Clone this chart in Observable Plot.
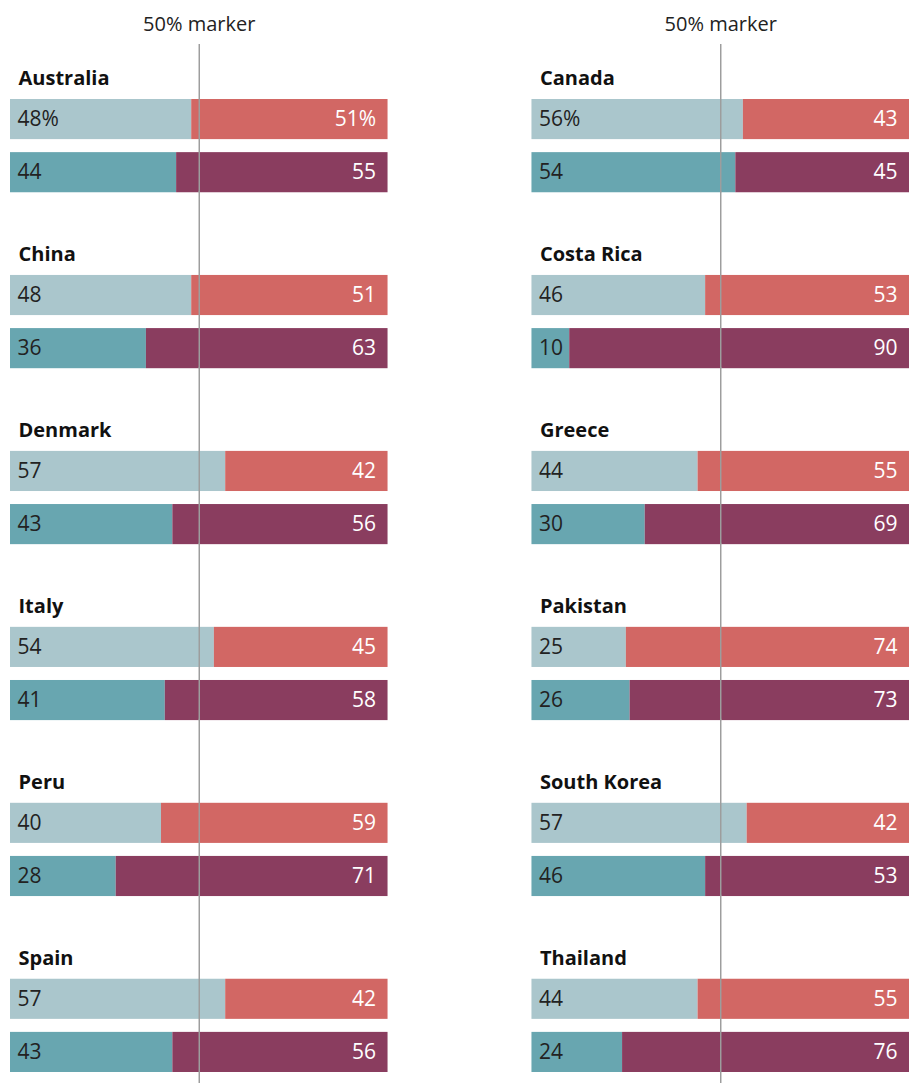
<!DOCTYPE html>
<html>
<head>
<meta charset="utf-8">
<script src="https://cdn.jsdelivr.net/npm/d3@7"></script>
<script src="https://cdn.jsdelivr.net/npm/@observablehq/plot@0.6"></script>
<style>
  html, body { margin: 0; padding: 0; background: #fff; }
  #chart svg { display: block; }
</style>
</head>
<body>
<div id="chart"></div>
<script>
// ---- data ----
const columns = ["left", "right"];
const countries = ["Australia", "China", "Denmark", "Italy", "Peru", "Spain",
                   "Canada", "Costa Rica", "Greece", "Pakistan", "South Korea", "Thailand"];
const countryColumn = ["left", "left", "left", "left", "left", "left",
                       "right", "right", "right", "right", "right", "right"];
const topFirst     = [48, 48, 57, 54, 40, 57, 56, 46, 44, 25, 57, 44];
const topSecond    = [51, 51, 42, 45, 59, 42, 43, 53, 55, 74, 42, 55];
const bottomFirst  = [44, 36, 43, 41, 28, 43, 54, 10, 30, 26, 46, 24];
const bottomSecond = [55, 63, 56, 58, 71, 56, 45, 90, 69, 73, 53, 76];
const topFirstLabel     = ["48%", "48", "57", "54", "40", "57", "56%", "46", "44", "25", "57", "44"];
const topSecondLabel    = ["51%", "51", "42", "45", "59", "42", "43", "53", "55", "74", "42", "55"];
const bottomFirstLabel  = ["44", "36", "43", "41", "28", "43", "54", "10", "30", "26", "46", "24"];
const bottomSecondLabel = ["55", "63", "56", "58", "71", "56", "45", "90", "69", "73", "53", "76"];
const markerValue = 50;
const markerLabel = "50% marker";
const total = 100;

// ---- build tables ----
const counters = {left: 0, right: 0};
const rows = countries.map((c, i) => {
  const col = countryColumn[i];
  const row = counters[col]++;
  return {country: c, col, row, i};
});
const rowDomain = d3.range(d3.max(rows, d => d.row) + 1);
const lastRow = rowDomain[rowDomain.length - 1];

const segments = rows.flatMap(r => [
  {col: r.col, row: r.row, bar: "top", x1: 0, x2: topFirst[r.i], key: "top-first"},
  {col: r.col, row: r.row, bar: "top", x1: topFirst[r.i], x2: total, key: "top-second"},
  {col: r.col, row: r.row, bar: "bottom", x1: 0, x2: bottomFirst[r.i], key: "bottom-first"},
  {col: r.col, row: r.row, bar: "bottom", x1: bottomFirst[r.i], x2: total, key: "bottom-second"}
]);
const leftLabels = rows.flatMap(r => [
  {col: r.col, row: r.row, bar: "top", text: topFirstLabel[r.i]},
  {col: r.col, row: r.row, bar: "bottom", text: bottomFirstLabel[r.i]}
]);
const rightLabels = rows.flatMap(r => [
  {col: r.col, row: r.row, bar: "top", text: topSecondLabel[r.i]},
  {col: r.col, row: r.row, bar: "bottom", text: bottomSecondLabel[r.i]}
]);
const markerRows = columns.map(c => ({col: c, row: rowDomain[0], x: markerValue, text: markerLabel}));

const font = "'Open Sans', 'DejaVu Sans', sans-serif";
const ruleStyle = {x: "x", fx: "col", fy: "row", stroke: "#9d9d9d", strokeWidth: 1.5};
const ruleData = rows.map(r => ({col: r.col, row: r.row, x: markerValue}));

const chart = Plot.plot({
  width: 909,
  height: 1083,
  marginLeft: 10,
  marginRight: 0,
  marginTop: 99,
  marginBottom: 11,
  style: {fontFamily: font, background: "#fff"},
  fx: {domain: columns, paddingInner: 0.276, paddingOuter: 0, round: false, axis: null, label: null},
  fy: {domain: rowDomain, paddingInner: 0.47, paddingOuter: 0, round: false, axis: null, label: null},
  x: {domain: [0, total], axis: null},
  y: {domain: ["top", "bottom"], paddingInner: 0.245, paddingOuter: 0, round: false, axis: null},
  color: {
    domain: ["top-first", "top-second", "bottom-first", "bottom-second"],
    range: ["#aac6cc", "#d26764", "#68a6b0", "#8a3d5f"]
  },
  marks: [
    Plot.barX(segments, {x1: "x1", x2: "x2", y: "bar", fx: "col", fy: "row", fill: "key", inset: 0}),
    Plot.ruleX(ruleData.filter(d => d.row === rowDomain[0]), {...ruleStyle, insetTop: -55}),
    Plot.ruleX(ruleData.filter(d => d.row !== rowDomain[0] && d.row !== lastRow), {...ruleStyle, insetTop: -84}),
    Plot.ruleX(ruleData.filter(d => d.row === lastRow), {...ruleStyle, insetTop: -84, insetBottom: -12}),
    Plot.text(markerRows, {x: "x", text: "text", fx: "col", fy: "row", frameAnchor: "top",
      lineAnchor: "middle", dy: -75, fontSize: 20, fill: "#222", textAnchor: "middle"}),
    Plot.text(rows, {text: "country", fx: "col", fy: "row", frameAnchor: "top-left",
      lineAnchor: "middle", textAnchor: "start", dx: 8, dy: -21, fontSize: 20, fontWeight: "bold", fill: "#111"}),
    Plot.text(leftLabels, {text: "text", y: "bar", fx: "col", fy: "row", frameAnchor: "left",
      textAnchor: "start", dx: 7, fontSize: 21, fill: "#222"}),
    Plot.text(rightLabels, {text: "text", y: "bar", fx: "col", fy: "row", frameAnchor: "right",
      textAnchor: "end", dx: -12, fontSize: 21, fill: "#fff"})
  ]
});
document.getElementById("chart").appendChild(chart);
</script>
</body>
</html>
